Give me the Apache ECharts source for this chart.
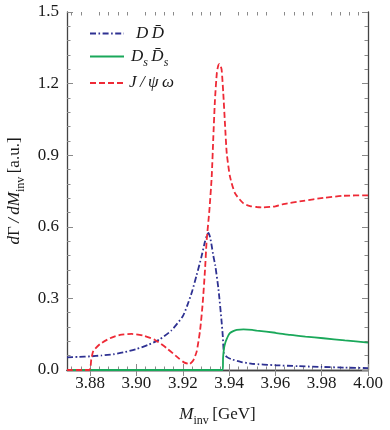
<!DOCTYPE html>
<html>
<head>
<meta charset="utf-8">
<title>dGamma/dM_inv</title>
<script src="https://cdn.jsdelivr.net/npm/echarts@6/dist/echarts.min.js"></script>
<style>
    html, body { margin: 0; padding: 0; background: #fff; }
    #chart-container { width: 390px; height: 430px; }
</style>
</head>
<body>
<div id="chart-container"></div>
<script>
// x tick labels (GeV)
var xTicks = [3.88, 3.90, 3.92, 3.94, 3.96, 3.98, 4.00];

// D Dbar channel
var ddbar = [
    [3.870, 0.053], [3.875, 0.055], [3.880, 0.057], [3.885, 0.061], [3.890, 0.066],
    [3.895, 0.075], [3.900, 0.088], [3.905, 0.105], [3.910, 0.128], [3.915, 0.165],
    [3.920, 0.225], [3.922, 0.272], [3.924, 0.328], [3.926, 0.398], [3.928, 0.472],
    [3.9296, 0.538], [3.9305, 0.566], [3.9311, 0.574], [3.9318, 0.556], [3.9325, 0.520],
    [3.9332, 0.478], [3.9340, 0.440], [3.9354, 0.340], [3.9368, 0.200], [3.9373, 0.140],
    [3.9378, 0.070], [3.9390, 0.055], [3.9410, 0.045], [3.9450, 0.034], [3.9500, 0.026],
    [3.9600, 0.020], [3.9700, 0.016], [3.9800, 0.013], [3.9900, 0.010], [4.0000, 0.008]
];

// Ds Dsbar channel
var dsbar = [
    [3.870, 0], [3.9373, 0], [3.9374, 0.050], [3.9378, 0.090], [3.9384, 0.115],
    [3.9390, 0.130], [3.9397, 0.145], [3.9404, 0.155], [3.9418, 0.163], [3.9433, 0.168],
    [3.9462, 0.170], [3.9500, 0.168], [3.9520, 0.165], [3.9600, 0.156], [3.9664, 0.147],
    [3.9730, 0.140], [3.9807, 0.133], [3.9900, 0.124], [4.0000, 0.115]
];

// J/psi omega channel
var jpsiomega = [
    [3.870, 0], [3.8796, 0], [3.8805, 0.045], [3.8814, 0.080], [3.8843, 0.109],
    [3.8886, 0.133], [3.8929, 0.147], [3.8980, 0.151], [3.9030, 0.144], [3.9080, 0.126],
    [3.9131, 0.091], [3.9174, 0.056], [3.9205, 0.032], [3.9228, 0.025], [3.9245, 0.040],
    [3.9260, 0.077], [3.9275, 0.168], [3.9286, 0.279], [3.9296, 0.419], [3.9303, 0.540],
    [3.9315, 0.670], [3.9325, 0.810], [3.9332, 0.977], [3.9339, 1.131], [3.9347, 1.243],
    [3.9353, 1.275], [3.9358, 1.282], [3.9363, 1.275], [3.9368, 1.257], [3.9375, 1.159],
    [3.9383, 1.019], [3.9390, 0.908], [3.9404, 0.810], [3.9426, 0.740], [3.9462, 0.698],
    [3.9491, 0.687], [3.9520, 0.683], [3.9548, 0.681], [3.9600, 0.686], [3.9634, 0.695],
    [3.9721, 0.709], [3.9807, 0.721], [3.9894, 0.730], [4.0000, 0.732]
];

(function(window, echarts) {
    'use strict';

    var SERIF = '"Liberation Serif", "DejaVu Serif", serif';
    var INK = '#1a1a1a';
    var FRAME = '#444';
    var TICK = '#8a8a8a';

    // minor ticks every 0.004 between the labelled ones
    var xMinor = [];
    for (var i = -2; i <= 30; i++) {
        var v = +(3.88 + i * 0.004).toFixed(3);
        if (i % 5 !== 0 && v >= 3.87 && v <= 4.0) xMinor.push(v);
    }

    var rich = {
        i: {fontFamily: SERIF, fontStyle: 'italic', fontSize: 17, lineHeight: 24, color: INK},
        n: {fontFamily: SERIF, fontSize: 17, lineHeight: 24, color: INK},
        sub: {fontFamily: SERIF, fontSize: 12, lineHeight: 12, verticalAlign: 'bottom', color: INK},
        isub: {fontFamily: SERIF, fontStyle: 'italic', fontSize: 12, lineHeight: 12, verticalAlign: 'bottom', color: INK}
    };

    var legendText = {
        'D D\u0304': '{i|D\u2009D\u0304}',
        'Ds D\u0304s': '{i|D}{isub|s}{i|\u2009D\u0304}{isub|s}',
        'J/\u03c8 \u03c9': '{i|J\u2009/\u2009\u03c8\u2009\u03c9}'
    };

    var chart = echarts.init(document.getElementById('chart-container'), null, {renderer: 'canvas'});

    var xBase = {
        type: 'value', min: 3.87, max: 4.0,
        splitLine: {show: false}
    };
    var yBase = {
        type: 'value', min: 0, max: 1.5, interval: 0.3,
        splitLine: {show: false}
    };

    var options = {
        animation: false,
        backgroundColor: '#fff',
        grid: [
            {left: 67, right: 22, top: 12, bottom: 60, outerBoundsMode: 'none', containLabel: false},
            {left: 67, right: 22, top: 12, bottom: 60, outerBoundsMode: 'none', containLabel: false}
        ],
        legend: {
            orient: 'vertical',
            left: 89, top: 25, padding: 0,
            itemWidth: 34, itemHeight: 2, itemGap: 6,
            itemStyle: {opacity: 0},
            textStyle: {rich: rich},
            formatter: function(name) { return legendText[name]; },
            data: [
                {name: 'D D\u0304', textStyle: {padding: [0, 0, 0, 7]}},
                {name: 'Ds D\u0304s', textStyle: {padding: [0, 0, 0, 2]}},
                {name: 'J/\u03c8 \u03c9'}
            ]
        },
        xAxis: [
            echarts.util.merge({
                gridIndex: 0, position: 'bottom',
                axisLine: {show: true, lineStyle: {color: FRAME, width: 1.3}},
                axisTick: {inside: true, length: 6, customValues: xTicks, lineStyle: {color: TICK}},
                axisLabel: {
                    customValues: xTicks, margin: 5,
                    fontFamily: SERIF, fontSize: 17, color: INK,
                    formatter: function(v) { return v.toFixed(2); }
                },
                name: '{i|M}{sub|inv}{n|\u2009[GeV]}',
                nameLocation: 'middle', nameGap: 33,
                nameTextStyle: {rich: rich}
            }, xBase),
            echarts.util.merge({
                gridIndex: 0, position: 'top',
                axisLine: {show: true, lineStyle: {color: FRAME, width: 1.3}},
                axisTick: {inside: true, length: 6, customValues: xTicks, lineStyle: {color: TICK}},
                axisLabel: {show: false}
            }, xBase),
            echarts.util.merge({
                gridIndex: 1, position: 'bottom',
                axisLine: {show: false},
                axisTick: {inside: true, length: 3.5, customValues: xMinor, lineStyle: {color: TICK}},
                axisLabel: {show: false}
            }, xBase),
            echarts.util.merge({
                gridIndex: 1, position: 'top',
                axisLine: {show: false},
                axisTick: {inside: true, length: 3.5, customValues: xMinor, lineStyle: {color: TICK}},
                axisLabel: {show: false}
            }, xBase)
        ],
        yAxis: [
            echarts.util.merge({
                gridIndex: 0, position: 'left',
                axisLine: {show: true, lineStyle: {color: FRAME, width: 1.3}},
                axisTick: {inside: true, length: 6, lineStyle: {color: TICK}},
                minorTick: {show: true, splitNumber: 5, length: 3.5, lineStyle: {color: TICK}},
                axisLabel: {
                    margin: 8, fontFamily: SERIF, fontSize: 17, color: INK,
                    formatter: function(v) { return v.toFixed(1); }
                },
                name: '{i|d}{n|\u0393}{i|\u2009/\u2009dM}{sub|inv}{n|\u2009[a.u.]}',
                nameLocation: 'middle', nameGap: 39, nameRotate: 90,
                nameTextStyle: {rich: rich}
            }, yBase),
            echarts.util.merge({
                gridIndex: 0, position: 'right',
                axisLine: {show: true, lineStyle: {color: FRAME, width: 1.3}},
                axisTick: {inside: true, length: 6, lineStyle: {color: TICK}},
                minorTick: {show: true, splitNumber: 5, length: 3.5, lineStyle: {color: TICK}},
                axisLabel: {show: false}
            }, yBase),
            echarts.util.merge({gridIndex: 1, show: false}, yBase)
        ],
        series: [
            {
                name: 'D D\u0304', type: 'line', xAxisIndex: 0, yAxisIndex: 0,
                data: ddbar, symbol: 'none', smooth: 0.2,
                color: '#2e3192',
                lineStyle: {width: 1.8, color: '#2e3192', type: [6, 2.5, 1.6, 2.5]}
            },
            {
                name: 'Ds D\u0304s', type: 'line', xAxisIndex: 0, yAxisIndex: 0,
                data: dsbar, symbol: 'none', smooth: 0.2,
                color: '#1aa85a',
                lineStyle: {width: 1.8, color: '#1aa85a', type: 'solid'}
            },
            {
                name: 'J/\u03c8 \u03c9', type: 'line', xAxisIndex: 0, yAxisIndex: 0,
                data: jpsiomega, symbol: 'none', smooth: 0.2,
                color: '#ee2a36',
                lineStyle: {width: 1.8, color: '#ee2a36', type: [6, 3]}
            }
        ]
    };

    chart.setOption(options);

})(window, window.echarts);
</script>
</body>
</html>
